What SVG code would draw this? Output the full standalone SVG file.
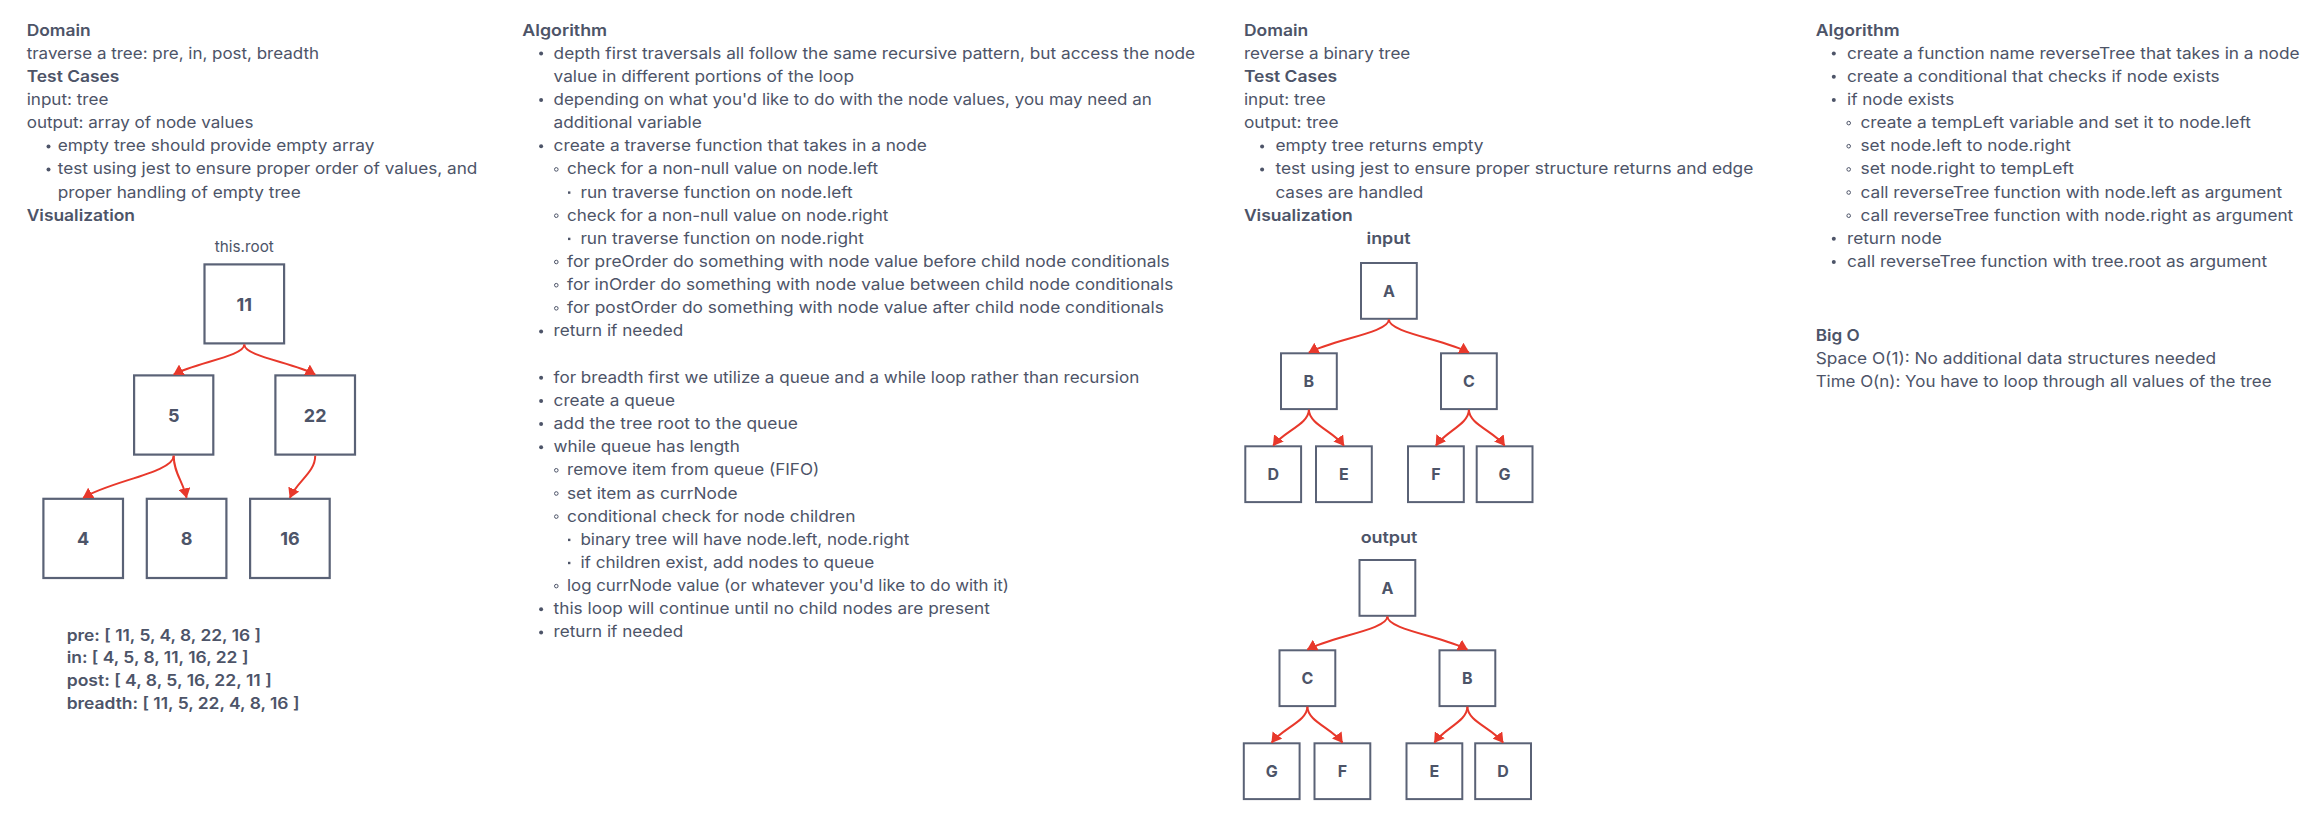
<svg xmlns="http://www.w3.org/2000/svg" width="2324" height="815" viewBox="0 0 2324 815">
<defs>
<style>
.t{font-family:Inter,"Noto Sans","Liberation Sans",sans-serif;font-size:16px;fill:#4d5468}
.b{font-weight:600}
.box{fill:#fff;stroke:#5a6276;stroke-width:2.2}
.box2{fill:#fff;stroke:#5a6276;stroke-width:2}
.l1{font-family:Inter,"Noto Sans","Liberation Sans",sans-serif;font-size:18px;font-weight:700;fill:#4d5468;text-anchor:middle}
.l2{font-family:Inter,"Noto Sans","Liberation Sans",sans-serif;font-size:16px;font-weight:700;fill:#4d5468;text-anchor:middle}
.edge{fill:none;stroke:#e8382b;stroke-width:2;marker-end:url(#arr)}
.dot{fill:#4d5468}
.ring{fill:none;stroke:#4d5468;stroke-width:1}
</style>
<marker id="arr" markerUnits="userSpaceOnUse" markerWidth="10" markerHeight="12" viewBox="0 0 10 12" refX="9.5" refY="6" orient="auto">
<path d="M0,0 L10,6 L0,12 z" fill="#e8382b"/>
</marker>
</defs>
<rect width="2324" height="815" fill="#fff"/>

<!-- Column 1 -->
<g id="col1" class="t">
<text class="b" x="26.7" y="35.5" textLength="64" lengthAdjust="spacingAndGlyphs">Domain</text>
<text x="26.7" y="58.65" textLength="292.3" lengthAdjust="spacingAndGlyphs">traverse a tree: pre, in, post, breadth</text>
<text class="b" x="26.7" y="81.8" textLength="92.7" lengthAdjust="spacingAndGlyphs">Test Cases</text>
<text x="26.7" y="104.95" textLength="81.7" lengthAdjust="spacingAndGlyphs">input: tree</text>
<text x="26.7" y="128.1" textLength="226.7" lengthAdjust="spacingAndGlyphs">output: array of node values</text>
<circle class="dot" cx="48.5" cy="146.5" r="2"/>
<text x="57.7" y="151.25" textLength="316.7" lengthAdjust="spacingAndGlyphs">empty tree should provide empty array</text>
<circle class="dot" cx="48.5" cy="169.6" r="2"/>
<text x="57.7" y="174.4" textLength="419.7" lengthAdjust="spacingAndGlyphs">test using jest to ensure proper order of values, and</text>
<text x="57.7" y="197.55" textLength="243" lengthAdjust="spacingAndGlyphs">proper handling of empty tree</text>
<text class="b" x="26.7" y="220.7" textLength="108.3" lengthAdjust="spacingAndGlyphs">Visualization</text>
<text x="244.3" y="252" text-anchor="middle" font-size="15" textLength="59" lengthAdjust="spacingAndGlyphs">this.root</text>
<text class="b" x="66.7" y="640.5" textLength="194.3" lengthAdjust="spacingAndGlyphs">pre: [ 11, 5, 4, 8, 22, 16 ]</text>
<text class="b" x="66.7" y="663.4" textLength="181.7" lengthAdjust="spacingAndGlyphs">in: [ 4, 5, 8, 11, 16, 22 ]</text>
<text class="b" x="66.7" y="686.3" textLength="205" lengthAdjust="spacingAndGlyphs">post: [ 4, 8, 5, 16, 22, 11 ]</text>
<text class="b" x="66.7" y="709.3" textLength="232.7" lengthAdjust="spacingAndGlyphs">breadth: [ 11, 5, 22, 4, 8, 16 ]</text>
</g>

<!-- Tree 1 -->
<g id="n11"><rect class="box" x="204.5" y="264.4" width="79.6" height="79"/><text class="l1" x="244.3" y="310.5">11</text></g>
<g id="n5"><rect class="box" x="134.1" y="375.4" width="79.2" height="79.2"/><text class="l1" x="173.7" y="421.5">5</text></g>
<g id="n22"><rect class="box" x="275.4" y="375.4" width="79.6" height="79.2"/><text class="l1" x="315.2" y="421.5">22</text></g>
<g id="n4"><rect class="box" x="43.4" y="498.8" width="79.6" height="79.2"/><text class="l1" x="83.2" y="545">4</text></g>
<g id="n8"><rect class="box" x="146.8" y="498.8" width="79.6" height="79.2"/><text class="l1" x="186.6" y="545">8</text></g>
<g id="n16"><rect class="box" x="250.1" y="498.8" width="79.6" height="79.2"/><text class="l1" x="289.9" y="545">16</text></g>

<!-- Column 2 -->
<g id="col2" class="t">
<text class="b" x="522.3" y="35.5" textLength="84.8" lengthAdjust="spacingAndGlyphs">Algorithm</text>
<circle class="dot" cx="541.1" cy="53.6" r="2"/>
<text x="553.6" y="58.65" textLength="641.5" lengthAdjust="spacingAndGlyphs">depth first traversals all follow the same recursive pattern, but access the node</text>
<text x="553.6" y="81.8" textLength="300.4" lengthAdjust="spacingAndGlyphs">value in different portions of the loop</text>
<circle class="dot" cx="541.1" cy="99.9" r="2"/>
<text x="553.6" y="104.95" textLength="598.2" lengthAdjust="spacingAndGlyphs">depending on what you'd like to do with the node values, you may need an</text>
<text x="553.6" y="128.1" textLength="148.2" lengthAdjust="spacingAndGlyphs">additional variable</text>
<circle class="dot" cx="541.1" cy="146.2" r="2"/>
<text x="553.6" y="151.25" textLength="373.2" lengthAdjust="spacingAndGlyphs">create a traverse function that takes in a node</text>
<circle class="ring" cx="556.3" cy="169.4" r="1.8"/>
<text x="567" y="174.4" textLength="311.2" lengthAdjust="spacingAndGlyphs">check for a non-null value on node.left</text>
<rect class="dot" x="568" y="191.4" width="2.4" height="2.4"/>
<text x="580.4" y="197.55" textLength="272.3" lengthAdjust="spacingAndGlyphs">run traverse function on node.left</text>
<circle class="ring" cx="556.3" cy="215.7" r="1.8"/>
<text x="567" y="220.7" textLength="321.4" lengthAdjust="spacingAndGlyphs">check for a non-null value on node.right</text>
<rect class="dot" x="568" y="237.7" width="2.4" height="2.4"/>
<text x="580.4" y="243.85" textLength="283.5" lengthAdjust="spacingAndGlyphs">run traverse function on node.right</text>
<circle class="ring" cx="556.3" cy="262" r="1.8"/>
<text x="567" y="267" textLength="602.7" lengthAdjust="spacingAndGlyphs">for preOrder do something with node value before child node conditionals</text>
<circle class="ring" cx="556.3" cy="285.2" r="1.8"/>
<text x="567" y="290.15" textLength="606.3" lengthAdjust="spacingAndGlyphs">for inOrder do something with node value between child node conditionals</text>
<circle class="ring" cx="556.3" cy="308.3" r="1.8"/>
<text x="567" y="313.3" textLength="596.9" lengthAdjust="spacingAndGlyphs">for postOrder do something with node value after child node conditionals</text>
<circle class="dot" cx="541.1" cy="331.4" r="2"/>
<text x="553.6" y="336.45" textLength="129.5" lengthAdjust="spacingAndGlyphs">return if needed</text>
<circle class="dot" cx="541.1" cy="377.7" r="2"/>
<text x="553.6" y="382.75" textLength="585.7" lengthAdjust="spacingAndGlyphs">for breadth first we utilize a queue and a while loop rather than recursion</text>
<circle class="dot" cx="541.1" cy="400.9" r="2"/>
<text x="553.6" y="405.9" textLength="121.4" lengthAdjust="spacingAndGlyphs">create a queue</text>
<circle class="dot" cx="541.1" cy="424" r="2"/>
<text x="553.6" y="429.05" textLength="244.2" lengthAdjust="spacingAndGlyphs">add the tree root to the queue</text>
<circle class="dot" cx="541.1" cy="447.2" r="2"/>
<text x="553.6" y="452.2" textLength="186.2" lengthAdjust="spacingAndGlyphs">while queue has length</text>
<circle class="ring" cx="556.3" cy="470.3" r="1.8"/>
<text x="567" y="475.35" textLength="252.2" lengthAdjust="spacingAndGlyphs">remove item from queue (FIFO)</text>
<circle class="ring" cx="556.3" cy="493.5" r="1.8"/>
<text x="567" y="498.5" textLength="170.5" lengthAdjust="spacingAndGlyphs">set item as currNode</text>
<circle class="ring" cx="556.3" cy="516.6" r="1.8"/>
<text x="567" y="521.65" textLength="288.4" lengthAdjust="spacingAndGlyphs">conditional check for node children</text>
<rect class="dot" x="568" y="538.7" width="2.4" height="2.4"/>
<text x="580.4" y="544.8" textLength="329" lengthAdjust="spacingAndGlyphs">binary tree will have node.left, node.right</text>
<rect class="dot" x="568" y="561.8" width="2.4" height="2.4"/>
<text x="580.4" y="567.95" textLength="293.8" lengthAdjust="spacingAndGlyphs">if children exist, add nodes to queue</text>
<circle class="ring" cx="556.3" cy="586.1" r="1.8"/>
<text x="567" y="591.1" textLength="442" lengthAdjust="spacingAndGlyphs">log currNode value (or whatever you'd like to do with it)</text>
<circle class="dot" cx="541.1" cy="609.2" r="2"/>
<text x="553.6" y="614.25" textLength="436.2" lengthAdjust="spacingAndGlyphs">this loop will continue until no child nodes are present</text>
<circle class="dot" cx="541.1" cy="632.4" r="2"/>
<text x="553.6" y="637.4" textLength="129.5" lengthAdjust="spacingAndGlyphs">return if needed</text>
</g>

<!-- Column 3 -->
<g id="col3" class="t">
<text class="b" x="1243.9" y="35.5" textLength="64.3" lengthAdjust="spacingAndGlyphs">Domain</text>
<text x="1243.9" y="58.65" textLength="166.4" lengthAdjust="spacingAndGlyphs">reverse a binary tree</text>
<text class="b" x="1243.9" y="81.8" textLength="93.2" lengthAdjust="spacingAndGlyphs">Test Cases</text>
<text x="1243.9" y="104.95" textLength="81.8" lengthAdjust="spacingAndGlyphs">input: tree</text>
<text x="1243.9" y="128.1" textLength="94.6" lengthAdjust="spacingAndGlyphs">output: tree</text>
<circle class="dot" cx="1262.1" cy="146.5" r="2"/>
<text x="1275.4" y="151.25" textLength="208.2" lengthAdjust="spacingAndGlyphs">empty tree returns empty</text>
<circle class="dot" cx="1262.1" cy="169.6" r="2"/>
<text x="1275.4" y="174.4" textLength="477.9" lengthAdjust="spacingAndGlyphs">test using jest to ensure proper structure returns and edge</text>
<text x="1275.4" y="197.55" textLength="147.9" lengthAdjust="spacingAndGlyphs">cases are handled</text>
<text class="b" x="1243.9" y="220.7" textLength="108.9" lengthAdjust="spacingAndGlyphs">Visualization</text>
<text class="b" x="1388.5" y="244" text-anchor="middle" textLength="44" lengthAdjust="spacingAndGlyphs">input</text>
<text class="b" x="1389" y="543.3" text-anchor="middle" textLength="56.7" lengthAdjust="spacingAndGlyphs">output</text>
</g>

<!-- Input tree -->
<g id="inA"><rect class="box2" x="1361" y="263" width="55.8" height="55.8"/><text class="l2" x="1388.9" y="296.8">A</text></g>
<g id="inB"><rect class="box2" x="1281" y="353.3" width="55.8" height="55.8"/><text class="l2" x="1308.9" y="387.1">B</text></g>
<g id="inC"><rect class="box2" x="1441" y="353.3" width="55.8" height="55.8"/><text class="l2" x="1468.9" y="387.1">C</text></g>
<g id="inD"><rect class="box2" x="1245.3" y="446.3" width="55.8" height="55.8"/><text class="l2" x="1273.2" y="480.1">D</text></g>
<g id="inE"><rect class="box2" x="1316" y="446.3" width="55.8" height="55.8"/><text class="l2" x="1343.9" y="480.1">E</text></g>
<g id="inF"><rect class="box2" x="1408" y="446.3" width="55.8" height="55.8"/><text class="l2" x="1435.9" y="480.1">F</text></g>
<g id="inG"><rect class="box2" x="1476.7" y="446.3" width="55.8" height="55.8"/><text class="l2" x="1504.6" y="480.1">G</text></g>

<!-- Output tree -->
<g id="outA"><rect class="box2" x="1359.5" y="560" width="55.8" height="55.8"/><text class="l2" x="1387.4" y="593.8">A</text></g>
<g id="outC"><rect class="box2" x="1279.5" y="650.3" width="55.8" height="55.8"/><text class="l2" x="1307.4" y="684.1">C</text></g>
<g id="outB"><rect class="box2" x="1439.5" y="650.3" width="55.8" height="55.8"/><text class="l2" x="1467.4" y="684.1">B</text></g>
<g id="outG"><rect class="box2" x="1243.8" y="743.3" width="55.8" height="55.8"/><text class="l2" x="1271.7" y="777.1">G</text></g>
<g id="outF"><rect class="box2" x="1314.5" y="743.3" width="55.8" height="55.8"/><text class="l2" x="1342.4" y="777.1">F</text></g>
<g id="outE"><rect class="box2" x="1406.5" y="743.3" width="55.8" height="55.8"/><text class="l2" x="1434.4" y="777.1">E</text></g>
<g id="outD"><rect class="box2" x="1475.2" y="743.3" width="55.8" height="55.8"/><text class="l2" x="1503.1" y="777.1">D</text></g>

<!-- Column 4 -->
<g id="col4" class="t">
<text class="b" x="1815.7" y="35.5" textLength="84" lengthAdjust="spacingAndGlyphs">Algorithm</text>
<circle class="dot" cx="1833.8" cy="53.6" r="2"/>
<text x="1847" y="58.65" textLength="452.5" lengthAdjust="spacingAndGlyphs">create a function name reverseTree that takes in a node</text>
<circle class="dot" cx="1833.8" cy="76.8" r="2"/>
<text x="1847" y="81.8" textLength="372.7" lengthAdjust="spacingAndGlyphs">create a conditional that checks if node exists</text>
<circle class="dot" cx="1833.8" cy="99.9" r="2"/>
<text x="1847" y="104.95" textLength="107.2" lengthAdjust="spacingAndGlyphs">if node exists</text>
<circle class="ring" cx="1848.7" cy="123.1" r="1.8"/>
<text x="1860.5" y="128.1" textLength="390.4" lengthAdjust="spacingAndGlyphs">create a tempLeft variable and set it to node.left</text>
<circle class="ring" cx="1848.7" cy="146.2" r="1.8"/>
<text x="1860.5" y="151.25" textLength="210.3" lengthAdjust="spacingAndGlyphs">set node.left to node.right</text>
<circle class="ring" cx="1848.7" cy="169.4" r="1.8"/>
<text x="1860.5" y="174.4" textLength="213.4" lengthAdjust="spacingAndGlyphs">set node.right to tempLeft</text>
<circle class="ring" cx="1848.7" cy="192.5" r="1.8"/>
<text x="1860.5" y="197.55" textLength="421.6" lengthAdjust="spacingAndGlyphs">call reverseTree function with node.left as argument</text>
<circle class="ring" cx="1848.7" cy="215.7" r="1.8"/>
<text x="1860.5" y="220.7" textLength="432.7" lengthAdjust="spacingAndGlyphs">call reverseTree function with node.right as argument</text>
<circle class="dot" cx="1833.8" cy="238.8" r="2"/>
<text x="1847" y="243.85" textLength="94.7" lengthAdjust="spacingAndGlyphs">return node</text>
<circle class="dot" cx="1833.8" cy="262" r="2"/>
<text x="1847" y="267" textLength="420.2" lengthAdjust="spacingAndGlyphs">call reverseTree function with tree.root as argument</text>
<text class="b" x="1815.7" y="340.5" textLength="44.1" lengthAdjust="spacingAndGlyphs">Big O</text>
<text x="1815.7" y="363.5" textLength="400.4" lengthAdjust="spacingAndGlyphs">Space O(1): No additional data structures needed</text>
<text x="1815.7" y="386.7" textLength="455.9" lengthAdjust="spacingAndGlyphs">Time O(n): You have to loop through all values of the tree</text>
</g>

<!-- Connectors -->
<g id="connectors">
<path class="edge" d="M244.3,344.5 C244.3,356.5 194.9,362.5 173.7,374.5"/>
<path class="edge" d="M244.3,344.5 C244.3,356.5 293.9,362.5 315.2,374.5"/>
<path class="edge" d="M173.7,455.7 C173.7,472.5 110.4,481 83.2,497.8"/>
<path class="edge" d="M173.7,455.7 C173.7,472.5 182.7,481 186.6,497.8"/>
<path class="edge" d="M315.2,455.7 C315.2,472.5 297.5,481 289.9,497.8"/>

<path class="edge" d="M1388.9,319.5 C1388.9,332.7 1332.9,339.4 1308.9,352.6"/>
<path class="edge" d="M1388.9,319.5 C1388.9,332.7 1444.9,339.4 1468.9,352.6"/>
<path class="edge" d="M1308.9,409.8 C1308.9,424.1 1283.9,431.3 1273.2,445.6"/>
<path class="edge" d="M1308.9,409.8 C1308.9,424.1 1333.4,431.3 1343.9,445.6"/>
<path class="edge" d="M1468.9,409.8 C1468.9,424.1 1445.8,431.3 1435.9,445.6"/>
<path class="edge" d="M1468.9,409.8 C1468.9,424.1 1493.9,431.3 1504.6,445.6"/>

<path class="edge" d="M1387.4,616.5 C1387.4,629.7 1331.4,636.4 1307.4,649.6"/>
<path class="edge" d="M1387.4,616.5 C1387.4,629.7 1443.4,636.4 1467.4,649.6"/>
<path class="edge" d="M1307.4,706.8 C1307.4,721.1 1282.4,728.3 1271.7,742.6"/>
<path class="edge" d="M1307.4,706.8 C1307.4,721.1 1331.9,728.3 1342.4,742.6"/>
<path class="edge" d="M1467.4,706.8 C1467.4,721.1 1444.3,728.3 1434.4,742.6"/>
<path class="edge" d="M1467.4,706.8 C1467.4,721.1 1492.4,728.3 1503.1,742.6"/>
</g>
</svg>
